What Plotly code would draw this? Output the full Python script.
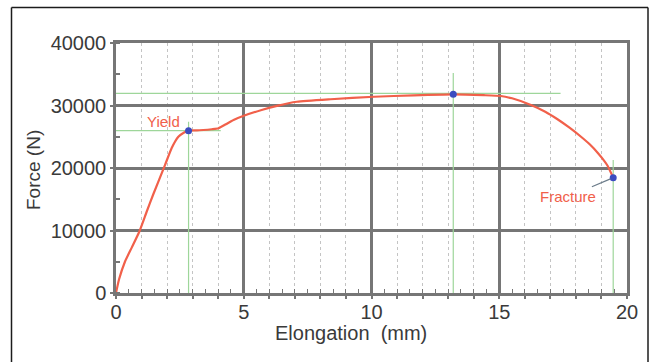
import plotly.graph_objects as go

# ---- data ----
elong_mm = [0, 0.12, 0.35, 0.62, 0.91, 1.2, 1.46, 1.92, 2.18, 2.44, 2.65, 2.84,
            3.1, 3.42, 3.75, 4.01, 4.3, 4.6, 5.0, 5.7, 6.3, 7.08, 8.4, 10.1, 11.65,
            13.2, 14.4, 15.06, 15.5, 16.24, 16.8, 17.28, 17.75, 18.2, 18.55, 18.85,
            19.05, 19.24, 19.46]
force_n = [0, 2200, 5000, 7300, 9800, 13000, 15800, 20500, 23200, 25000, 25650, 25970,
           26020, 26080, 26200, 26350, 27000, 27680, 28350, 29280, 29950, 30600, 31000, 31400, 31630,
           31780, 31650, 31520, 31150, 30080, 29000, 27800, 26450, 25000, 23750, 22450,
           21450, 20350, 18450]

point_names = ["Yield", "Max", "Fracture"]
point_x = [2.84, 13.2, 19.46]
point_f = [25970, 31820, 18450]

# green guide lines (start/end values)
yield_h_x = [0, 4.1]
yield_h_f = [25970, 25970]
yield_v_x = [2.84, 2.84]
yield_v_f = [0, 27400]
max_h_x = [0, 17.4]
max_h_f = [31950, 31950]
max_v_x = [13.2, 13.2]
max_v_f = [0, 35200]
frac_v_x = [19.46, 19.46]
frac_v_f = [0, 21300]

x_ticks = [0, 5, 10, 15, 20]
y_ticks = [0, 10000, 20000, 30000, 40000]
y_tick_text = ["0", "10000", "20000", "30000", "40000"]

W, H = 651, 362
L, T = 116, 43
pw, ph = 511, 250
R = W - L - pw
B = H - T - ph

def px(xs):  # screen x pixel -> paper
    return (xs - L) / pw

def py(ys):  # screen y pixel -> paper
    return (T + ph - ys) / ph

GREEN = "#9ed69a"
RED = "#f1604a"
BLUE = "#3b4cc0"
GRID = "#767676"
FONT = "Liberation Sans, Arial, sans-serif"
TXT = "#3a3a3a"

fig = go.Figure()

for gx, gy in [(yield_h_x, yield_h_f), (yield_v_x, yield_v_f), (max_h_x, max_h_f),
               (max_v_x, max_v_f), (frac_v_x, frac_v_f)]:
    fig.add_trace(go.Scatter(x=gx, y=gy, mode="lines", line=dict(color=GREEN, width=1.2),
                             hoverinfo="skip", showlegend=False))

fig.add_trace(go.Scatter(x=elong_mm, y=force_n, mode="lines",
                         line=dict(color=RED, width=2.2, shape="spline", smoothing=0.5),
                         showlegend=False))

fig.add_trace(go.Scatter(x=point_x, y=point_f, mode="markers", text=point_names,
                         marker=dict(color=BLUE, size=7), showlegend=False))

# helper trace so the overlay axis (ticks every 0.5 mm) is drawn
fig.add_trace(go.Scatter(x=[0], y=[0], xaxis="x2", mode="markers",
                         marker=dict(opacity=0), hoverinfo="skip", showlegend=False))

fig.add_annotation(x=point_x[0] - 1.0, y=point_f[0] + 1400, text="Yield", showarrow=False,
                   font=dict(family=FONT, size=15, color=RED))
fig.add_annotation(x=point_x[2], y=point_f[2], text="Fracture", showarrow=True,
                   arrowhead=0, arrowcolor="#6b7c8a", arrowwidth=1.2, ax=-45, ay=19,
                   standoff=3, font=dict(family=FONT, size=15, color=RED))

fig.add_annotation(xref="paper", yref="paper", x=px(33), y=py(170), text="Force (N)",
                   textangle=-90, showarrow=False, xanchor="center", yanchor="middle",
                   font=dict(family=FONT, size=19, color=TXT))
fig.add_annotation(xref="paper", yref="paper", x=px(351), y=py(333),
                   text="Elongation\u00a0 (mm)", showarrow=False,
                   xanchor="center", yanchor="middle",
                   font=dict(family=FONT, size=20, color=TXT))

# outer frame (left, top, right edges; bottom runs off the picture)
frame = dict(color="#1c1c1c", width=1.5)
fig.add_shape(type="line", xref="paper", yref="paper", x0=px(11.5), x1=px(11.5),
              y0=py(7.5), y1=py(370), line=frame)
fig.add_shape(type="line", xref="paper", yref="paper", x0=px(11.5), x1=px(648),
              y0=py(7.5), y1=py(7.5), line=frame)
fig.add_shape(type="line", xref="paper", yref="paper", x0=px(648), x1=px(648),
              y0=py(7.5), y1=py(370), line=frame)

fig.update_layout(
    width=W, height=H, margin=dict(l=L, r=R, t=T, b=B),
    paper_bgcolor="white", plot_bgcolor="white",
    font=dict(family=FONT, color=TXT),
    xaxis=dict(range=[0, 20], tickvals=x_ticks, showgrid=True, gridcolor=GRID, gridwidth=2.5,
               showline=True, linecolor=GRID, linewidth=2.5, mirror=True,
               ticks="outside", ticklen=3, tickcolor=GRID, tickwidth=1.5,
               ticklabelstandoff=-4,
               tickfont=dict(size=20, color=TXT), zeroline=False,
               minor=dict(dtick=1, showgrid=True, gridcolor="#c4c4c4", griddash="dot",
                          gridwidth=1, ticks="outside", ticklen=3, tickcolor=GRID)),
    xaxis2=dict(range=[0, 20], overlaying="x", side="bottom", anchor="y", dtick=0.5,
                showgrid=False, showticklabels=False, ticks="inside", ticklen=4,
                tickcolor=GRID, tickwidth=1.2, zeroline=False, showline=False),
    yaxis=dict(range=[0, 40000], tickvals=y_ticks, ticktext=y_tick_text,
               showgrid=True, gridcolor=GRID, gridwidth=2.5,
               showline=True, linecolor=GRID, linewidth=2.5, mirror=True,
               ticks="outside", ticklen=3, tickcolor=GRID, tickwidth=1.5,
               ticklabelstandoff=0,
               tickfont=dict(size=20, color=TXT), zeroline=False,
               minor=dict(dtick=5000, ticks="inside", ticklen=4, tickcolor=GRID, showgrid=False)),
)

fig.write_html(
    "out.html",
    config={"displayModeBar": False},
    post_script="document.body.style.margin='0';document.body.style.overflow='hidden';",
)
